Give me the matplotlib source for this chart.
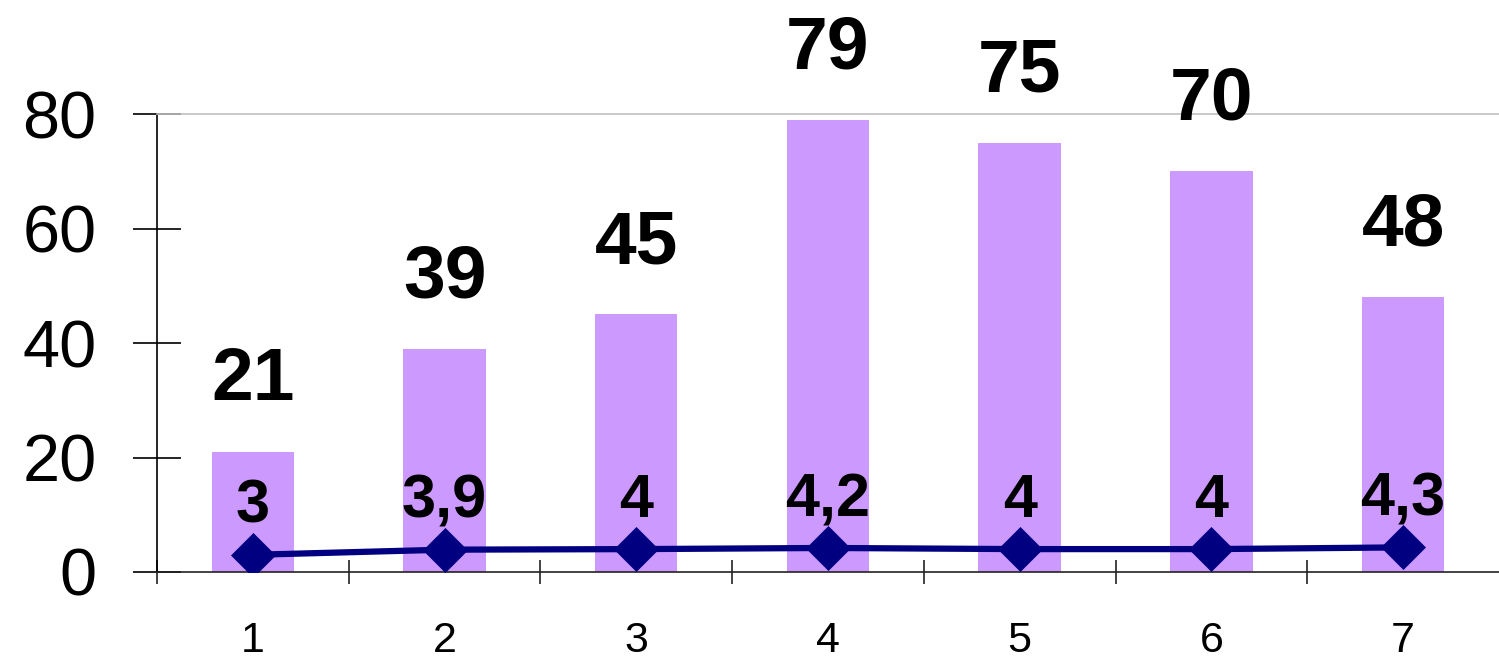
import matplotlib
matplotlib.use("Agg")
import matplotlib.pyplot as plt

plt.rcParams['font.family'] = ['Liberation Sans', 'DejaVu Sans']

# data
categories = [1, 2, 3, 4, 5, 6, 7]
bar_values = [21, 39, 45, 79, 75, 70, 48]
line_values = [3, 3.9, 4, 4.2, 4, 4, 4.3]
y_ticks = [0, 20, 40, 60, 80]


def fmt(v):
    # decimal comma, as in the original
    s = ('%g' % v)
    return s.replace('.', ',')


fig = plt.figure(figsize=(14.99, 6.58), dpi=100)
ax = fig.add_axes([0.1047, 0.1307, 0.8953, 0.696])

ax.bar(categories, bar_values, width=0.43, color='#CC99FF', zorder=2)
ax.plot(categories, line_values, color='#000080', lw=4.5, marker='D',
        ms=22, markeredgewidth=0.5, zorder=3)

for x, v in zip(categories, bar_values):
    ax.annotate(fmt(v), (x, v), xytext=(0, 37), textcoords='offset points',
                ha='center', va='baseline', fontsize=54, fontweight='bold',
                zorder=4)

for x, v in zip(categories, line_values):
    ax.annotate(fmt(v), (x, v), xytext=(0, 23), textcoords='offset points',
                ha='center', va='baseline', fontsize=44, fontweight='bold',
                zorder=4)

ax.set_xlim(0.5, 7.5)
ax.set_ylim(0, 80)

# y axis
ax.set_yticks(y_ticks)
ax.set_yticklabels([str(t) for t in y_ticks])
ax.tick_params(axis='y', direction='inout', length=35, width=1.2,
               labelsize=48, pad=26)

# x axis: boundary ticks without labels, category labels as minor ticks
ax.set_xticks([c - 0.5 for c in categories])
ax.set_xticklabels([])
ax.set_xticks(categories, minor=True)
ax.set_xticklabels([str(c) for c in categories], minor=True)
ax.tick_params(axis='x', which='major', direction='inout', length=17,
               width=1.2, color='#222222')
ax.tick_params(axis='x', which='minor', direction='out', length=0,
               labelsize=31, pad=35)

ax.spines['right'].set_visible(False)
ax.spines['top'].set_color('#c0c0c0')
ax.spines['top'].set_linewidth(1.2)
ax.spines['left'].set_linewidth(1.2)
ax.spines['bottom'].set_linewidth(1.2)
ax.spines['bottom'].set_color('#222222')

fig.savefig('out.png', dpi=100)
